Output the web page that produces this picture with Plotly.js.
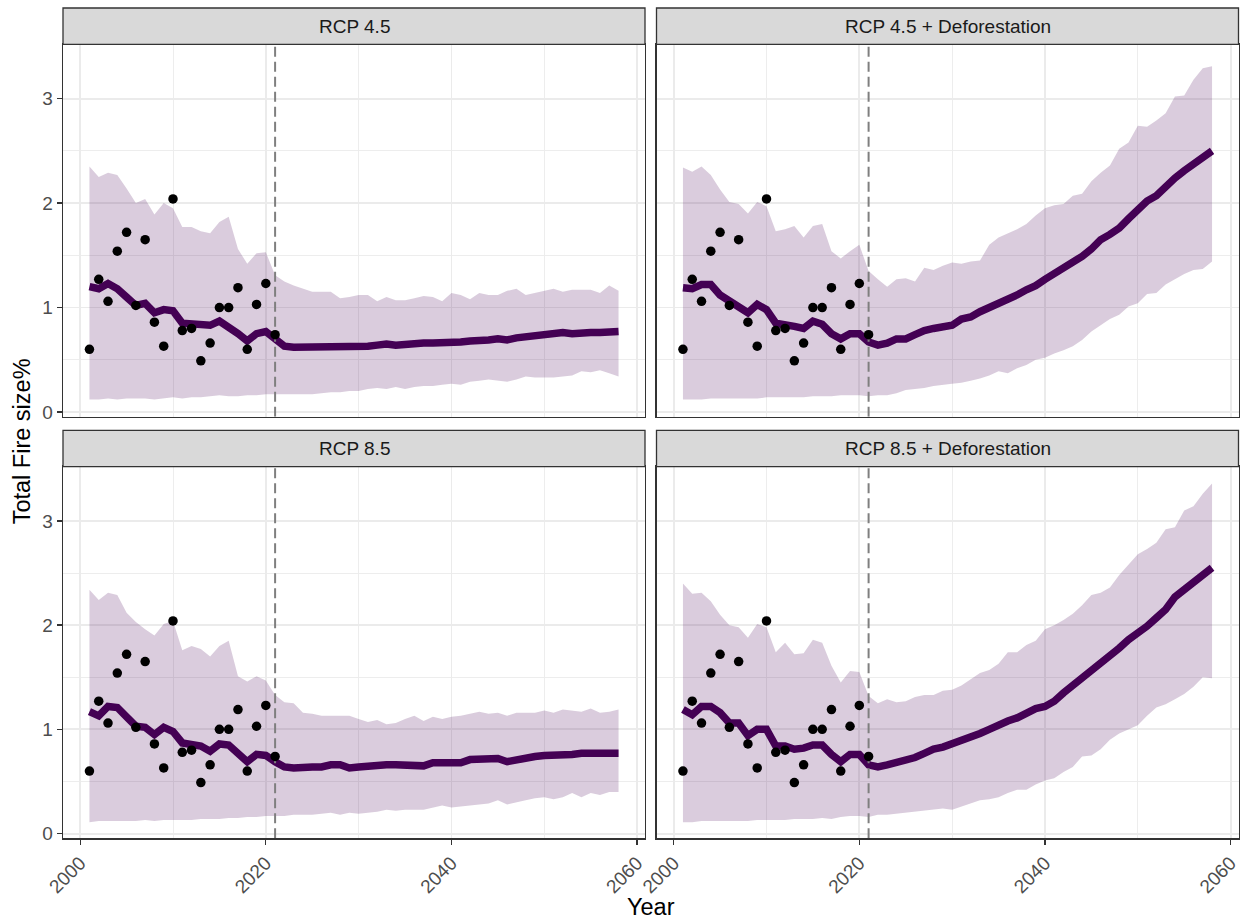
<!DOCTYPE html>
<html>
<head>
<meta charset="utf-8">
<script src="https://cdn.plot.ly/plotly-3.0.1.min.js"></script>
<style>html,body{margin:0;padding:0;background:#fff;}#chart{width:1247px;height:919px;}</style>
</head>
<body>
<div id="chart"></div>
<script>
// ---------------- DATA ----------------
const years = [2001,2002,2003,2004,2005,2006,2007,2008,2009,2010,2011,2012,2013,2014,2015,2016,2017,2018,2019,2020,2021,
  2022,2023,2024,2025,2026,2027,2028,2029,2030,2031,2032,2033,2034,2035,2036,2037,2038,2039,2040,
  2041,2042,2043,2044,2045,2046,2047,2048,2049,2050,2051,2052,2053,2054,2055,2056,2057,2058];

const obsYears = [2001,2002,2003,2004,2005,2006,2007,2008,2009,2010,2011,2012,2013,2014,2015,2016,2017,2018,2019,2020,2021];
const obsValues = [0.60,1.27,1.06,1.54,1.72,1.02,1.65,0.86,0.63,2.04,0.78,0.80,0.49,0.66,1.00,1.00,1.19,0.60,1.03,1.23,0.74];

const projectionStart = 2021;

const panelTitles = ["RCP 4.5","RCP 4.5 + Deforestation","RCP 8.5","RCP 8.5 + Deforestation"];

// RCP 4.5
const median45 = [1.20,1.18,1.23,1.18,1.10,1.02,1.04,0.95,0.98,0.97,0.85,0.84,0.83,0.83,0.87,0.82,0.75,0.68,0.75,0.77,0.70,
  0.63,0.62,0.62,0.62,0.62,0.62,0.62,0.63,0.63,0.63,0.64,0.65,0.64,0.65,0.66,0.66,0.66,0.66,0.66,
  0.67,0.68,0.68,0.69,0.70,0.69,0.71,0.72,0.72,0.73,0.74,0.76,0.75,0.76,0.76,0.76,0.77,0.77];
const upper45 = [2.35,2.25,2.29,2.27,2.14,2.00,2.04,1.89,2.00,1.95,1.77,1.77,1.73,1.71,1.82,1.87,1.56,1.42,1.52,1.53,1.31,
  1.25,1.21,1.18,1.15,1.15,1.15,1.09,1.10,1.12,1.12,1.06,1.10,1.07,1.07,1.09,1.11,1.10,1.06,1.14,
  1.12,1.08,1.14,1.12,1.12,1.16,1.18,1.12,1.14,1.16,1.18,1.15,1.17,1.17,1.17,1.14,1.21,1.16];
const lower45 = [0.12,0.12,0.13,0.12,0.13,0.13,0.13,0.12,0.13,0.14,0.13,0.14,0.14,0.15,0.16,0.15,0.15,0.16,0.16,0.17,0.17,
  0.17,0.17,0.17,0.17,0.18,0.19,0.19,0.20,0.20,0.22,0.23,0.22,0.24,0.22,0.24,0.25,0.25,0.26,0.27,
  0.26,0.29,0.30,0.31,0.30,0.29,0.31,0.34,0.33,0.33,0.33,0.34,0.35,0.39,0.38,0.40,0.37,0.34];

// RCP 4.5 + Deforestation
const medianDef45 = [1.19,1.18,1.22,1.22,1.12,1.06,0.99,0.95,1.03,0.98,0.85,0.84,0.82,0.80,0.87,0.84,0.75,0.70,0.75,0.75,0.67,
  0.64,0.66,0.70,0.70,0.74,0.78,0.80,0.81,0.83,0.89,0.91,0.96,1.00,1.04,1.07,1.12,1.17,1.21,1.27,
  1.32,1.38,1.43,1.49,1.56,1.65,1.70,1.76,1.85,1.94,2.02,2.07,2.16,2.24,2.31,2.37,2.44,2.50];
const upperDef45 = [2.34,2.30,2.35,2.27,2.13,2.01,1.99,1.90,2.01,1.97,1.73,1.75,1.78,1.67,1.78,1.80,1.54,1.47,1.54,1.60,1.35,
  1.27,1.20,1.27,1.28,1.25,1.38,1.36,1.40,1.43,1.42,1.44,1.45,1.60,1.67,1.71,1.75,1.80,1.88,1.95,
  1.98,1.99,2.07,2.09,2.21,2.29,2.36,2.52,2.58,2.74,2.73,2.79,2.86,3.02,3.03,3.18,3.29,3.31];
const lowerDef45 = [0.12,0.12,0.12,0.13,0.13,0.13,0.13,0.13,0.13,0.14,0.14,0.14,0.14,0.14,0.15,0.15,0.15,0.16,0.16,0.16,0.15,
  0.16,0.16,0.18,0.21,0.22,0.23,0.25,0.26,0.27,0.28,0.30,0.32,0.35,0.39,0.37,0.42,0.45,0.50,0.52,
  0.56,0.59,0.63,0.69,0.77,0.83,0.89,0.93,1.01,1.04,1.13,1.14,1.22,1.27,1.32,1.36,1.37,1.44];

// RCP 8.5
const median85 = [1.17,1.13,1.22,1.21,1.12,1.03,1.02,0.95,1.02,0.98,0.87,0.85,0.84,0.79,0.86,0.85,0.77,0.69,0.76,0.75,0.69,
  0.64,0.63,0.64,0.64,0.64,0.66,0.66,0.63,0.64,0.65,0.66,0.66,0.66,0.66,0.66,0.65,0.68,0.68,0.68,
  0.68,0.71,0.71,0.71,0.72,0.69,0.71,0.73,0.74,0.75,0.75,0.76,0.76,0.77,0.77,0.77,0.77,0.77];
const upper85 = [2.34,2.24,2.31,2.29,2.12,2.03,1.96,1.90,2.01,2.04,1.76,1.80,1.77,1.70,1.80,1.85,1.51,1.46,1.51,1.47,1.33,
  1.26,1.25,1.16,1.15,1.13,1.13,1.13,1.13,1.10,1.07,1.09,1.05,1.06,1.10,1.13,1.08,1.12,1.10,1.12,
  1.13,1.15,1.17,1.15,1.16,1.13,1.16,1.16,1.16,1.18,1.16,1.19,1.18,1.17,1.20,1.16,1.17,1.19];
const lower85 = [0.11,0.12,0.12,0.12,0.12,0.12,0.13,0.12,0.13,0.13,0.13,0.13,0.14,0.14,0.14,0.15,0.15,0.16,0.16,0.17,0.17,
  0.17,0.18,0.18,0.18,0.19,0.20,0.18,0.20,0.19,0.20,0.21,0.23,0.22,0.23,0.23,0.23,0.25,0.27,0.25,
  0.26,0.27,0.28,0.29,0.32,0.28,0.30,0.32,0.34,0.35,0.33,0.35,0.39,0.35,0.39,0.37,0.40,0.40];

// RCP 8.5 + Deforestation
const medianDef85 = [1.19,1.14,1.22,1.22,1.16,1.06,1.06,0.94,1.00,1.00,0.84,0.84,0.81,0.82,0.85,0.85,0.76,0.69,0.76,0.76,0.66,
  0.64,0.66,0.68,0.71,0.73,0.77,0.81,0.83,0.86,0.90,0.93,0.96,1.00,1.05,1.08,1.11,1.15,1.20,1.22,
  1.27,1.35,1.42,1.50,1.56,1.62,1.70,1.78,1.86,1.92,1.99,2.07,2.15,2.27,2.34,2.42,2.47,2.55];
const upperDef85 = [2.40,2.30,2.31,2.23,2.10,2.00,1.98,1.88,2.01,1.98,1.74,1.83,1.72,1.73,1.86,1.83,1.61,1.45,1.56,1.55,1.32,
  1.25,1.29,1.26,1.27,1.31,1.33,1.33,1.37,1.38,1.42,1.48,1.54,1.57,1.63,1.74,1.74,1.81,1.85,1.96,
  2.00,2.05,2.11,2.19,2.29,2.31,2.36,2.48,2.58,2.68,2.73,2.79,2.92,2.94,3.10,3.14,3.26,3.36];
const lowerDef85 = [0.11,0.11,0.12,0.12,0.12,0.12,0.12,0.12,0.13,0.13,0.13,0.13,0.14,0.14,0.14,0.15,0.14,0.16,0.17,0.17,0.16,
  0.18,0.18,0.19,0.20,0.21,0.22,0.23,0.24,0.23,0.26,0.29,0.32,0.33,0.35,0.39,0.42,0.42,0.47,0.51,
  0.53,0.59,0.64,0.74,0.75,0.81,0.90,0.96,1.00,1.04,1.13,1.21,1.24,1.29,1.34,1.41,1.50,1.49];

const xTicks = [2000,2020,2040,2060];
const xTickLabels = ["2000","2020","2040","2060"];
const yTicks = [0,1,2,3];
const yTickLabels = ["0","1","2","3"];

// ---------------- LAYOUT / STYLE ----------------
const W = 1247, H = 919;
const xRange = [1998.15, 2060.85];
const yRange = [-0.045, 3.52];
const LINE_COL = "#440154";
const FILL_COL = "rgba(68,1,84,0.2)";
const FONT = "Liberation Sans, Arial, Helvetica, sans-serif";
const TICK_SIZE = 19, STRIP_SIZE = 19, TITLE_SIZE = 23.5;

const series = [
  {median: median45,    upper: upper45,    lower: lower45},
  {median: medianDef45, upper: upperDef45, lower: lowerDef45},
  {median: median85,    upper: upper85,    lower: lower85},
  {median: medianDef85, upper: upperDef85, lower: lowerDef85}
];

// panel boxes in pixels: [left, right], [top, bottom]
const colX = [[63, 645], [656.5, 1238.5]];
const rowY = [[44.3, 416.7], [466.7, 838.3]];
const stripH = 36.3;

const px = v => v / W;
const py = v => 1 - v / H;

const traces = [];
const layout = {
  width: W, height: H, autosize: false,
  margin: {l: 0, r: 0, t: 0, b: 0},
  paper_bgcolor: "#ffffff", plot_bgcolor: "#ffffff",
  showlegend: false, hovermode: false,
  font: {family: FONT, color: "#000"},
  shapes: [], annotations: []
};

series.forEach((s, i) => {
  const n = i + 1;
  const suf = n === 1 ? "" : String(n);
  const xa = "x" + suf, ya = "y" + suf;
  const row = Math.floor(i / 2), col = i % 2;
  const [l, r] = colX[col];
  const [t, b] = rowY[row];

  // ribbon
  traces.push({
    type: "scatter", mode: "lines", xaxis: xa, yaxis: ya,
    x: years.concat(years.slice().reverse()),
    y: s.upper.concat(s.lower.slice().reverse()),
    fill: "toself", fillcolor: FILL_COL, line: {width: 0, color: FILL_COL},
    hoverinfo: "skip"
  });
  // median
  traces.push({
    type: "scatter", mode: "lines", xaxis: xa, yaxis: ya,
    x: years, y: s.median,
    line: {color: LINE_COL, width: 7.5}, hoverinfo: "skip"
  });
  // projection start
  traces.push({
    type: "scatter", mode: "lines", xaxis: xa, yaxis: ya,
    x: [projectionStart, projectionStart], y: yRange,
    line: {color: "#7F7F7F", width: 2, dash: "10px,5px"}, hoverinfo: "skip"
  });
  // observations
  traces.push({
    type: "scatter", mode: "markers", xaxis: xa, yaxis: ya,
    x: obsYears, y: obsValues,
    marker: {color: "#000000", size: 9.5, line: {width: 0}}, hoverinfo: "skip"
  });

  const bottomRow = row === 1, leftCol = col === 0;
  layout["xaxis" + suf] = {
    domain: [px(l), px(r)], anchor: ya, range: xRange,
    tickmode: "array", tickvals: xTicks, ticktext: xTickLabels,
    showgrid: true, gridcolor: "#EBEBEB", gridwidth: 1.8,
    minor: {tickmode: "array", tickvals: [2010, 2030, 2050], showgrid: true, gridcolor: "#EBEBEB", gridwidth: 0.9, ticks: ""},
    zeroline: false, showline: true, mirror: true, linecolor: "#333333", linewidth: 1.3,
    ticks: bottomRow ? "outside" : "", ticklen: 5, tickwidth: 1.3, tickcolor: "#333333",
    showticklabels: bottomRow, tickangle: -45,
    tickfont: {family: FONT, size: TICK_SIZE, color: "#4D4D4D"}, fixedrange: true
  };
  layout["yaxis" + suf] = {
    domain: [py(b), py(t)], anchor: xa, range: yRange,
    tickmode: "array", tickvals: yTicks, ticktext: yTickLabels,
    showgrid: true, gridcolor: "#EBEBEB", gridwidth: 1.8,
    minor: {tickmode: "array", tickvals: [0.5, 1.5, 2.5], showgrid: true, gridcolor: "#EBEBEB", gridwidth: 0.9, ticks: ""},
    zeroline: false, showline: true, mirror: true, linecolor: "#333333", linewidth: 1.3,
    ticks: leftCol ? "outside" : "", ticklen: 5, tickwidth: 1.3, tickcolor: "#333333",
    showticklabels: leftCol,
    tickfont: {family: FONT, size: TICK_SIZE, color: "#4D4D4D"}, fixedrange: true
  };

  // strip
  layout.shapes.push({
    type: "rect", xref: "paper", yref: "paper",
    x0: px(l), x1: px(r), y0: py(t), y1: py(t - stripH),
    fillcolor: "#D9D9D9", line: {color: "#333333", width: 1.3}, layer: "above"
  });
  layout.annotations.push({
    xref: "paper", yref: "paper", x: px((l + r) / 2), y: py(t - stripH / 2),
    text: panelTitles[i], showarrow: false, xanchor: "center", yanchor: "middle",
    font: {family: FONT, size: STRIP_SIZE, color: "#1A1A1A"}
  });
});

layout.annotations.push({
  xref: "paper", yref: "paper", x: px(22), y: py((rowY[0][0] + rowY[1][1]) / 2),
  text: "Total Fire size%", textangle: -90, showarrow: false,
  xanchor: "center", yanchor: "middle",
  font: {family: FONT, size: TITLE_SIZE, color: "#000000"}
});
layout.annotations.push({
  xref: "paper", yref: "paper", x: px((colX[0][0] + colX[1][1]) / 2), y: py(907),
  text: "Year", showarrow: false, xanchor: "center", yanchor: "middle",
  font: {family: FONT, size: TITLE_SIZE, color: "#000000"}
});

Plotly.newPlot("chart", traces, layout, {staticPlot: true, displayModeBar: false});
</script>
</body>
</html>
